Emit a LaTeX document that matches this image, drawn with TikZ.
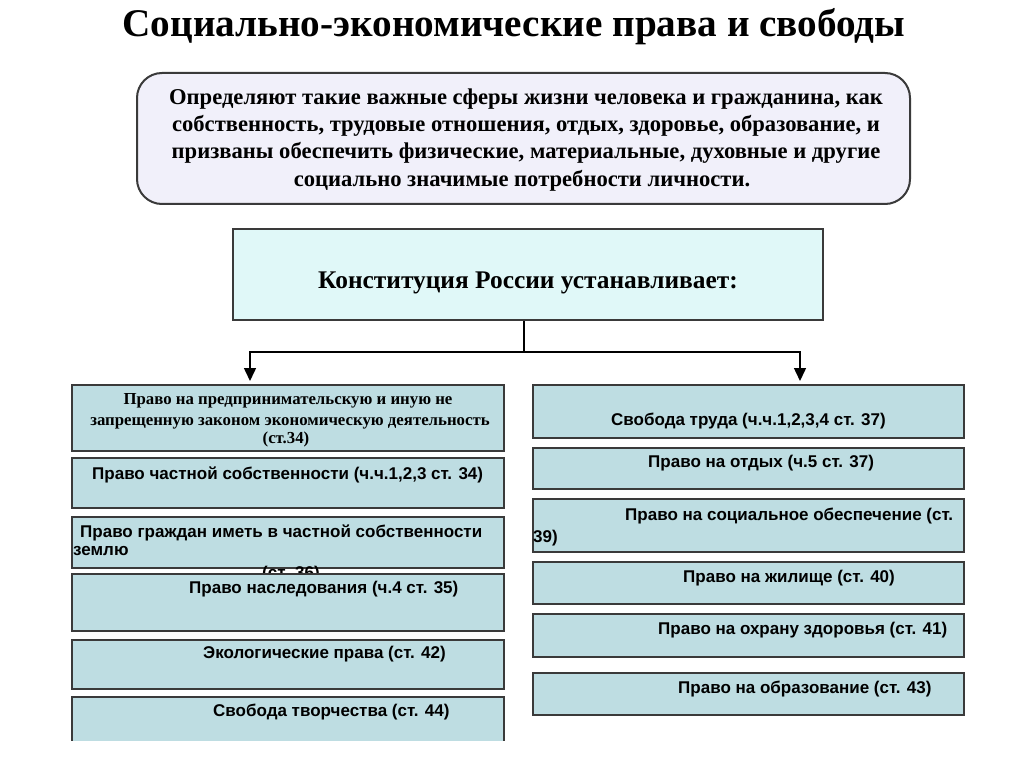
\documentclass[tikz,border=0pt]{standalone}
\usepackage{fontspec}
\setmainfont{Liberation Serif}
\newfontfamily\arialf{Liberation Sans}
\usetikzlibrary{arrows.meta}
\definecolor{lav}{HTML}{F1F0FA}
\definecolor{cyanbox}{HTML}{E0F8F8}
\definecolor{bluebox}{HTML}{BEDDE2}
\definecolor{edge}{HTML}{3A3A3A}
\newcommand\mkbox[6]{\node[#6, minimum width={(#4-#2)*1pt}, minimum height={(#5-#3)*1pt}] (#1) at ({(#2+#4)/2},{(#3+#5)/2}) {};}
\tikzset{
  smallbox/.style={draw=edge, line width=2pt, fill=bluebox, inner sep=0pt, outer sep=0pt},
  sanstxt/.style={font=\arialf\bfseries\fontsize{17}{20}\selectfont, inner sep=0pt, anchor=base west, text=black},
  sertxt/.style={font=\bfseries\fontsize{16.8}{19}\selectfont, inner sep=0pt, anchor=base, text=black},
  toptxt/.style={font=\bfseries\fontsize{22.6}{26}\selectfont, inner sep=0pt, anchor=base, text=black},
  conn/.style={line width=1.5pt, draw=black},
  tip/.style={-{Triangle[width=12pt,length=13pt]}}
}
\begin{document}
\begin{tikzpicture}[x=1pt,y=-1pt]
\useasboundingbox (0,0) rectangle (1024,767);
\fill[white] (0,0) rectangle (1024,767);
% title
\node[font=\bfseries\fontsize{39.2}{46}\selectfont, inner sep=0pt, anchor=base] (title) at (514,37) {Социально-экономические права и свободы};
% top rounded box
\mkbox{top}{137}{73}{910}{204}{draw=edge, line width=2pt, fill=lav, rounded corners=25pt, inner sep=0pt}
\node[toptxt] (t1) at (526,105) {Определяют такие важные сферы жизни человека и гражданина, как};
\node[toptxt] (t2) at (526,132) {собственность, трудовые отношения, отдых, здоровье, образование, и};
\node[toptxt] (t3) at (526,159) {призваны обеспечить физические, материальные, духовные и другие};
\node[toptxt] (t4) at (522,187) {социально значимые потребности личности.};
% constitution box
\mkbox{C}{233}{229}{823}{320}{draw=edge, line width=2pt, fill=cyanbox, inner sep=0pt}
\node[font=\bfseries\fontsize{25.4}{29}\selectfont, inner sep=0pt, anchor=base] (ct) at (528,288) {Конституция России устанавливает:};
% connectors
\coordinate (j) at (524,352);
\coordinate (aL) at (250,352);
\coordinate (aR) at (800,352);
\coordinate (tL) at (250,381);
\coordinate (tR) at (800,381);
\draw[conn] (C.south -| j) -- (j);
\draw[conn, tip] (j) -- (aL) -- (tL);
\draw[conn, tip] (j) -- (aR) -- (tR);
% left column
\mkbox{L1}{72}{385}{504}{451}{smallbox}
\node[sertxt] (l1a) at (288,404) {Право на предпринимательскую и иную не};
\node[sertxt] (l1b) at (290,425) {запрещенную законом экономическую деятельность};
\node[sertxt] (l1c) at (286,443) {(ст.34)};
\mkbox{L2}{72}{458}{504}{508}{smallbox}
\node[sanstxt] (l2) at (92,479) {Право частной собственности (ч.ч.1,2,3 ст. 34)};
\mkbox{L3}{72}{517}{504}{568}{smallbox}
\node[sanstxt] (l3a) at (80,537) {Право граждан иметь в частной собственности};
\node[sanstxt] (l3b) at (73,555) {землю};
\node[sanstxt] (l3c) at (262,578) {(ст. 36)};
\mkbox{L4}{72}{574}{504}{631}{smallbox}
\node[sanstxt] (l4) at (189,593) {Право наследования (ч.4 ст. 35)};
\mkbox{L5}{72}{640}{504}{689}{smallbox}
\node[sanstxt] (l5) at (203,658) {Экологические права (ст. 42)};
\begin{scope}
\clip (0,0) rectangle (1024,740);
\mkbox{L6}{72}{697}{504}{770}{smallbox}
\end{scope}
\node[sanstxt] (l6) at (213,716) {Свобода творчества (ст. 44)};
% right column
\mkbox{R1}{533}{385}{964}{438}{smallbox}
\node[sanstxt] (r1) at (611,425) {Свобода труда (ч.ч.1,2,3,4 ст. 37)};
\mkbox{R2}{533}{448}{964}{489}{smallbox}
\node[sanstxt] (r2) at (648,467) {Право на отдых (ч.5 ст. 37)};
\mkbox{R3}{533}{499}{964}{552}{smallbox}
\node[sanstxt] (r3a) at (625,520) {Право на социальное обеспечение (ст.};
\node[sanstxt] (r3b) at (533,542) {39)};
\mkbox{R4}{533}{562}{964}{604}{smallbox}
\node[sanstxt] (r4) at (683,582) {Право на жилище (ст. 40)};
\mkbox{R5}{533}{614}{964}{657}{smallbox}
\node[sanstxt] (r5) at (658,634) {Право на охрану здоровья (ст. 41)};
\mkbox{R6}{533}{673}{964}{715}{smallbox}
\node[sanstxt] (r6) at (678,693) {Право на образование (ст. 43)};
\end{tikzpicture}
\end{document}
